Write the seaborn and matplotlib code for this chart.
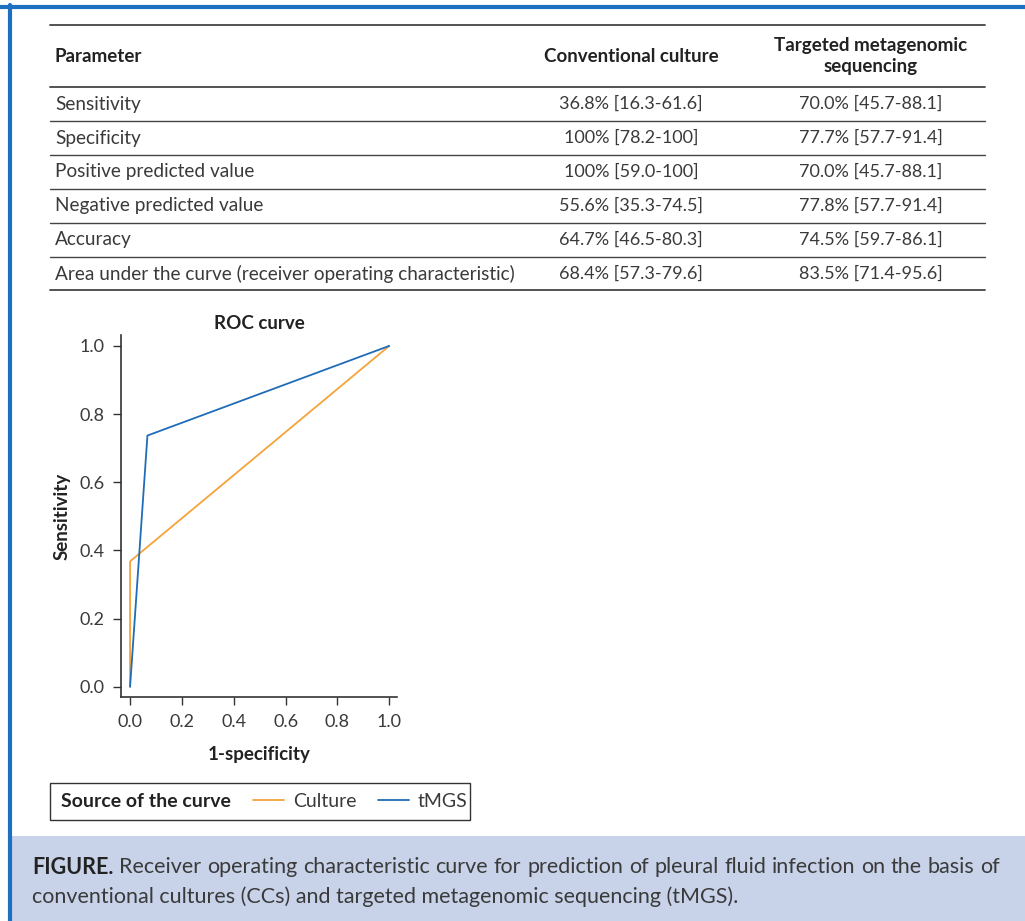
import pandas as pd
import seaborn as sns
import matplotlib.pyplot as plt
from matplotlib.lines import Line2D
from matplotlib.patches import Rectangle

# Données du tableau
parameters = ['Sensitivity', 'Specificity', 'Positive predicted value',
              'Negative predicted value', 'Accuracy',
              'Area under the curve (receiver operating characteristic)']
culture_values = ['36.8% [16.3-61.6]', '100% [78.2-100]', '100% [59.0-100]',
                  '55.6% [35.3-74.5]', '64.7% [46.5-80.3]', '68.4% [57.3-79.6]']
tmgs_values = ['70.0% [45.7-88.1]', '77.7% [57.7-91.4]', '70.0% [45.7-88.1]',
               '77.8% [57.7-91.4]', '74.5% [59.7-86.1]', '83.5% [71.4-95.6]']
headers = ['Parameter', 'Conventional culture', 'Targeted metagenomic\nsequencing']

# Points des courbes ROC
culture_fpr = [0.0, 0.0, 1.0]
culture_tpr = [0.0, 0.368, 1.0]
tmgs_fpr = [0.0, 0.067, 1.0]
tmgs_tpr = [0.0, 0.737, 1.0]
sources = ['Culture', 'tMGS']
colors = ['#f5a33a', '#1f6cb8']

caption_1 = ('Receiver operating characteristic curve for prediction '
             'of pleural fluid infection on the basis of')
caption_2 = 'conventional cultures (CCs) and targeted metagenomic sequencing (tMGS).'

df = pd.DataFrame({
    'fpr': culture_fpr + tmgs_fpr,
    'tpr': culture_tpr + tmgs_tpr,
    'source': [sources[0]] * len(culture_fpr) + [sources[1]] * len(tmgs_fpr),
})

sns.set_theme(style='ticks')
plt.rcParams['font.family'] = ['Lato', 'DejaVu Sans']

W, H = 1025, 921
fig = plt.figure(figsize=(W / 100, H / 100), dpi=100)


def fx(x):
    return x / W


def fy(y):
    return 1 - y / H


text_col = '#3a3a3a'
bold_col = '#222222'

# Cadre bleu
fig.add_artist(Line2D([fx(0), fx(W)], [fy(7), fy(7)], color='#1d6fbf', lw=3))
fig.add_artist(Line2D([fx(9.5), fx(9.5)], [fy(5), fy(H)], color='#1d6fbf', lw=3))

# Tableau
x0, x1 = 50, 985
col_c = [55, 631, 871]
row_lines = [25, 87, 121, 155, 189, 223, 257, 290]
for i, y in enumerate(row_lines):
    fig.add_artist(Line2D([fx(x0), fx(x1)], [fy(y), fy(y)], color='#444444',
                          lw=1.3 if i in (0, 1, len(row_lines) - 1) else 1.0))

hdr_y = (row_lines[0] + row_lines[1]) / 2
fig.text(fx(col_c[0]), fy(hdr_y), headers[0], ha='left', va='center',
         fontsize=13.5, fontweight='bold', color=bold_col)
fig.text(fx(col_c[1]), fy(hdr_y), headers[1], ha='center', va='center',
         fontsize=13.5, fontweight='bold', color=bold_col)
fig.text(fx(col_c[2]), fy(hdr_y), headers[2], ha='center', va='center',
         fontsize=13.5, fontweight='bold', color=bold_col, linespacing=1.25)

for i in range(len(parameters)):
    yc = (row_lines[i + 1] + row_lines[i + 2]) / 2
    fig.text(fx(col_c[0]), fy(yc), parameters[i], ha='left', va='center',
             fontsize=13.7, color=text_col)
    fig.text(fx(col_c[1]), fy(yc), culture_values[i], ha='center', va='center',
             fontsize=13, color=text_col)
    fig.text(fx(col_c[2]), fy(yc), tmgs_values[i], ha='center', va='center',
             fontsize=13, color=text_col)

# Courbe ROC
ax_l, ax_r, ax_t, ax_b = 121, 397, 335, 697
ax = fig.add_axes([fx(ax_l), fy(ax_b), (ax_r - ax_l) / W, (ax_b - ax_t) / H])
sns.lineplot(data=df, x='fpr', y='tpr', hue='source', palette=colors,
             sort=False, estimator=None, lw=1.3, ax=ax, legend=False)
ax.set_xlim(-0.035, 1.03)
ax.set_ylim(-0.03, 1.032)
ax.set_xticks([0, 0.2, 0.4, 0.6, 0.8, 1.0])
ax.set_yticks([0, 0.2, 0.4, 0.6, 0.8, 1.0])
ax.set_xticklabels([f'{v:.1f}' for v in ax.get_xticks()])
ax.set_yticklabels([f'{v:.1f}' for v in ax.get_yticks()])
ax.tick_params(labelsize=13, colors='#333333', length=6, width=1, pad=6)
for lab in ax.get_xticklabels() + ax.get_yticklabels():
    lab.set_color(text_col)
for s in ['left', 'bottom']:
    ax.spines[s].set_color('#333333')
    ax.spines[s].set_linewidth(1.2)
sns.despine(ax=ax)
ax.set_title('ROC curve', fontsize=13.5, fontweight='bold', color=bold_col, pad=4)
ax.set_xlabel('1-specificity', fontsize=13.5, fontweight='bold', color=bold_col, labelpad=12)
ax.set_ylabel('Sensitivity', fontsize=13.5, fontweight='bold', color=bold_col, labelpad=6)

# Légende
fig.add_artist(Rectangle((fx(50), fy(820)), (470 - 50) / W, (820 - 783) / H,
                         fill=False, edgecolor='#333333', lw=1.0))
handles = [Line2D([0], [0], color=c, lw=1.3) for c in colors]
leg = fig.legend(handles, sources, loc='center left',
                 bbox_to_anchor=(fx(253), fy(801.5)), ncol=2, frameon=False,
                 handlelength=1.6, columnspacing=1.1, handletextpad=0.45,
                 borderpad=0, borderaxespad=0, prop={'size': 14})
for t in leg.get_texts():
    t.set_color(text_col)
fig.text(fx(61), fy(801.5), 'Source of the curve', ha='left', va='center',
         fontsize=14, fontweight='bold', color=bold_col)

# Légende de la figure (première ligne justifiée)
fig.add_artist(Rectangle((fx(11), 0), (W - 11) / W, (H - 836) / H,
                         color='#c8d3ea', lw=0))
fig.canvas.draw()
renderer = fig.canvas.get_renderer()
words = ['FIGURE.'] + caption_1.split(' ')
items = []
for k, w in enumerate(words):
    t = fig.text(0, fy(867), w, ha='left', va='center', fontsize=15.5,
                 fontweight='bold' if k == 0 else 'normal',
                 color=bold_col if k == 0 else text_col)
    items.append((t, t.get_window_extent(renderer).width))
left_px, right_px = 32, 1000
gap = (right_px - left_px - sum(wd for _, wd in items)) / (len(items) - 1)
pos = left_px
for t, wd in items:
    t.set_x(fx(pos))
    pos += wd + gap
fig.text(fx(32), fy(897), caption_2, ha='left', va='center', fontsize=15.5,
         color=text_col)

fig.savefig('out.png', dpi=100)
